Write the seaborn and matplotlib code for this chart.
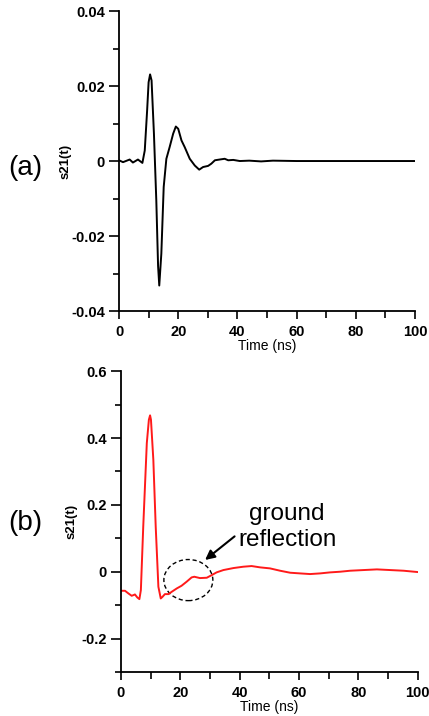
import numpy as np
import pandas as pd
import matplotlib
matplotlib.use('Agg')
import matplotlib.pyplot as plt
import seaborn as sns
from matplotlib.patches import Ellipse
from matplotlib.ticker import MultipleLocator, FuncFormatter

sns.set_style('ticks')
plt.rcParams['font.family'] = ['Liberation Sans', 'DejaVu Sans']
plt.rcParams['axes.unicode_minus'] = False
plt.rcParams['text.color'] = 'black'
plt.rcParams['axes.labelcolor'] = 'black'
plt.rcParams['xtick.color'] = 'black'
plt.rcParams['ytick.color'] = 'black'
plt.rcParams['axes.edgecolor'] = 'black'

# (a) measured s21(t)
time_a = [0, 1.35, 3.6, 4.7, 6.4, 7.9, 8.7, 9.5, 10.0, 10.5, 11.0, 11.8, 12.6, 13.2, 13.6, 14.3, 15.1,
          16.0, 17.1, 18.3, 19.2, 20.0, 21.1, 22.2, 23.9, 25.6, 27.1, 28.4, 30.1, 31.2,
          32.4, 34.0, 35.7, 36.9, 38.6, 40.8, 44, 48, 52, 60, 70, 80, 90, 100]
s21_a = [0.0002, -0.0003, 0.0004, -0.0004, 0.0004, -0.0005, 0.0028, 0.0135, 0.021, 0.0231, 0.0215,
         0.0073, -0.0105, -0.028, -0.0332, -0.0247, -0.0069, 0.0006, 0.0037, 0.0073, 0.0092, 0.0086,
         0.0055, 0.0037, 0.0006, -0.0012, -0.0023, -0.0016, -0.0013, -0.0007, 0.0002,
         0.0004, 0.0006, 0.0002, 0.0003, 0.0, 0.0001, -0.0001, 0.0001, 0.0, 0.0, 0.0, 0.0, 0.0]

# (b) s21(t) with ground reflection
time_b = [0, 1.35, 2.5, 3.6, 4.2, 4.7, 5.5, 6.2, 6.7, 7.5, 8.7, 9.4, 9.8, 10.1, 10.9, 11.7, 12.6,
          13.4, 14.0, 14.8, 16.0, 17.1, 18.8, 20.4, 22.1, 23.8, 24.7, 26.6, 28.9, 30.6,
          32.2, 34.5, 37.9, 41.2, 44.0, 46.9, 50.2, 53.6, 57.0, 60.3, 63.7, 67.1, 70.4,
          73.8, 77.2, 81.7, 86.2, 90.7, 95.2, 100]
s21_b = [-0.057, -0.057, -0.065, -0.072, -0.07, -0.068, -0.077, -0.082, -0.055, 0.135,
         0.385, 0.455, 0.468, 0.455, 0.335, 0.135, -0.045, -0.08, -0.075, -0.067, -0.067, -0.06,
         -0.05, -0.042, -0.03, -0.017, -0.015, -0.019, -0.018, -0.01, -0.002, 0.005, 0.011,
         0.015, 0.017, 0.013, 0.01, 0.003, -0.003, -0.005, -0.007, -0.005, -0.002, 0.0,
         0.003, 0.005, 0.007, 0.005, 0.003, -0.001]

df_a = pd.DataFrame({'t': time_a, 's': s21_a})
df_b = pd.DataFrame({'t': time_b, 's': s21_b})

fig = plt.figure(figsize=(4.29, 7.16), dpi=100)
ax1 = fig.add_axes([0.2774, 0.5656, 0.690, 0.419])
ax2 = fig.add_axes([0.282, 0.0615, 0.692, 0.420])

sns.lineplot(data=df_a, x='t', y='s', ax=ax1, color='black', linewidth=1.4, estimator=None)
sns.lineplot(data=df_b, x='t', y='s', ax=ax2, color='#ff1a1a', linewidth=1.4, estimator=None)

fmt = FuncFormatter(lambda v, p: '%g' % round(v, 4))
for ax in (ax1, ax2):
    ax.set_xlim(0, 100)
    ax.xaxis.set_major_locator(MultipleLocator(20))
    ax.xaxis.set_minor_locator(MultipleLocator(10))
    ax.xaxis.set_major_formatter(fmt)
    ax.yaxis.set_major_formatter(fmt)
    ax.spines['top'].set_visible(False)
    ax.spines['right'].set_visible(False)
    for s in ('left', 'bottom'):
        ax.spines[s].set_linewidth(1.3)
    ax.tick_params(axis='y', which='major', length=7, width=1.2, pad=3)
    ax.tick_params(axis='y', which='minor', length=4, width=1.2)
    ax.tick_params(axis='x', which='major', length=6, width=1.2, pad=4)
    ax.tick_params(axis='x', which='minor', length=5, width=1.2)
    ax.set_xlabel('Time (ns)', fontsize=10, labelpad=0)
    ax.set_ylabel('s21(t)', fontsize=9.5, fontweight='bold')

ax1.set_ylim(-0.04, 0.04)
ax1.yaxis.set_major_locator(MultipleLocator(0.02))
ax1.yaxis.set_minor_locator(MultipleLocator(0.01))
ax1.yaxis.set_label_coords(-0.162, 0.5)

ax2.set_ylim(-0.3, 0.6)
ax2.yaxis.set_major_locator(MultipleLocator(0.2))
ax2.yaxis.set_minor_locator(MultipleLocator(0.1))
ax2.yaxis.set_label_coords(-0.145, 0.5)

for ax in (ax1, ax2):
    for lab in ax.get_xticklabels() + ax.get_yticklabels():
        lab.set_fontsize(10.5)
        lab.set_fontweight('bold')

fig.text(0.058, 0.765, '(a)', fontsize=20, ha='center', va='center')
fig.text(0.058, 0.27, '(b)', fontsize=20, ha='center', va='center')

ax2.add_patch(Ellipse((22.7, -0.025), 16.5, 0.123, fill=False, linestyle=(0, (3, 2)),
                      edgecolor='black', linewidth=1.0))
ax2.annotate('', xy=(27.6, 0.03), xytext=(39, 0.111),
             arrowprops=dict(arrowstyle='-|>', color='black', lw=1.5, mutation_scale=14))
ax2.text(56, 0.133, 'ground\nreflection', fontsize=17.5, ha='center', va='center',
         linespacing=1.25)

fig.savefig('out.png', dpi=100)
